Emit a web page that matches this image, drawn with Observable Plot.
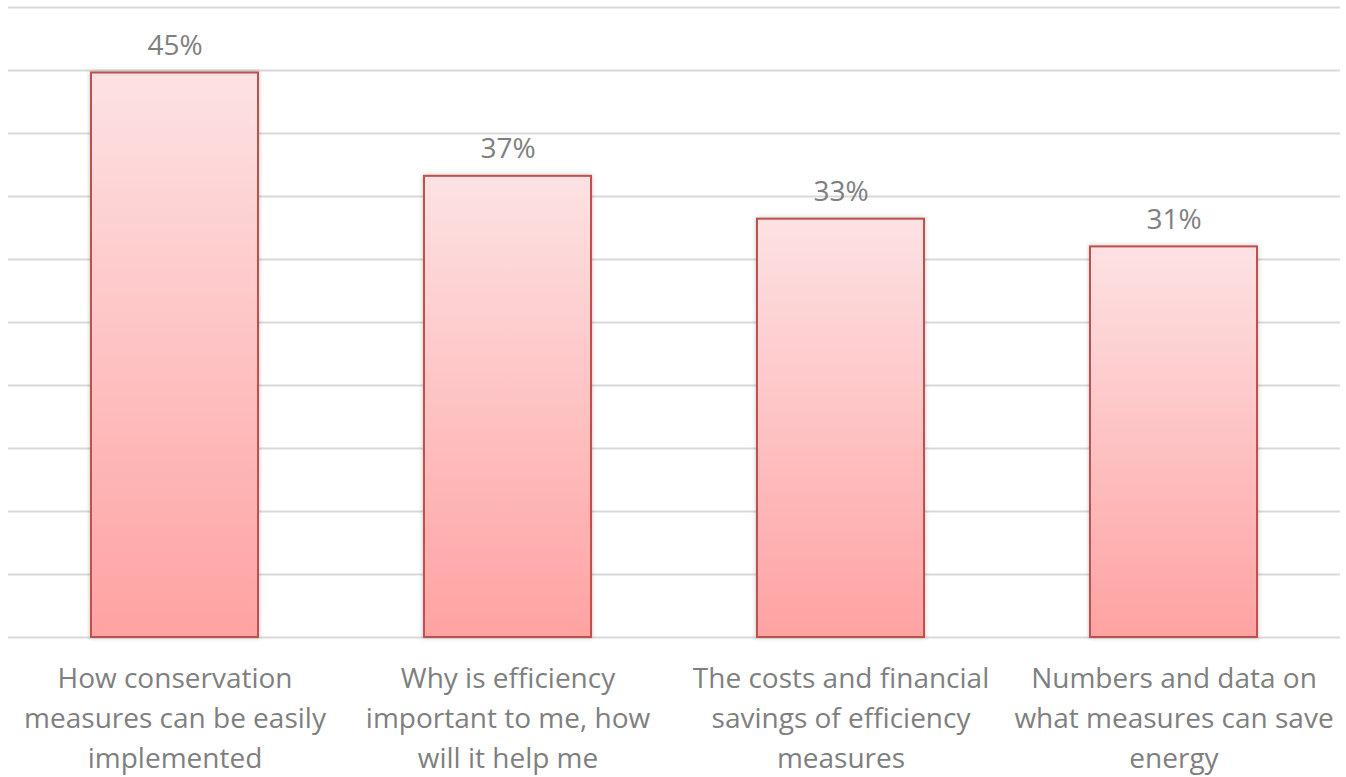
<!DOCTYPE html>
<html>
<head>
<meta charset="utf-8">
<script src="https://cdn.jsdelivr.net/npm/d3@7"></script>
<script src="https://cdn.jsdelivr.net/npm/@observablehq/plot@0.6"></script>
<style>
  html, body { margin: 0; padding: 0; background: #fff; }
  .bars rect { filter: drop-shadow(0px 0px 2px rgba(0,0,0,0.25)); }
</style>
</head>
<body>
<div id="chart"></div>
<script>
const categories = [
  "How conservation measures can be easily implemented",
  "Why is efficiency important to me, how will it help me",
  "The costs and financial savings of efficiency measures",
  "Numbers and data on what measures can save energy"
];
const tickLabels = [
  "How conservation\nmeasures can be easily\nimplemented",
  "Why is efficiency\nimportant to me, how\nwill it help me",
  "The costs and financial\nsavings of efficiency\nmeasures",
  "Numbers and data on\nwhat measures can save\nenergy"
];
const values = [44.8, 36.6, 33.2, 31.0];
const valueLabels = ["45%", "37%", "33%", "31%"];
const gridTicks = [0, 5, 10, 15, 20, 25, 30, 35, 40, 45, 50];

const data = categories.map((c, i) => ({cat: c, value: values[i], label: valueLabels[i], tick: tickLabels[i]}));

const chart = Plot.plot({
  width: 1346,
  height: 777,
  marginTop: 7,
  marginBottom: 140,
  marginLeft: 8,
  marginRight: 6,
  style: {fontFamily: "'Open Sans', sans-serif", background: "#fff"},
  x: {domain: categories, paddingInner: 0.5, paddingOuter: 0.25, axis: null},
  y: {domain: [0, 50], axis: null},
  marks: [
    Plot.ruleY(gridTicks, {stroke: "#d9d9d9", strokeWidth: 2}),
    Plot.barY(data, {x: "cat", y: "value", fill: "url(#barGrad)", stroke: "#c0504d", strokeWidth: 2, className: "bars"}),
    Plot.text(data, {x: "cat", y: "value", text: "label", dy: -18, lineAnchor: "bottom", fill: "#7f7f7f", fontSize: 28}),
    Plot.text(data, {x: "cat", y: 0, text: "tick", dy: 22, lineAnchor: "top", lineHeight: 1.43, fill: "#7f7f7f", fontSize: 28})
  ]
});

const svg = d3.select(chart);
const defs = svg.insert("defs", ":first-child");
const grad = defs.append("linearGradient")
  .attr("id", "barGrad")
  .attr("x1", 0).attr("y1", 0).attr("x2", 0).attr("y2", 1);
grad.append("stop").attr("offset", "0%").attr("stop-color", "#fde2e3");
grad.append("stop").attr("offset", "100%").attr("stop-color", "#ffa2a2");

document.getElementById("chart").appendChild(chart);
</script>
</body>
</html>
